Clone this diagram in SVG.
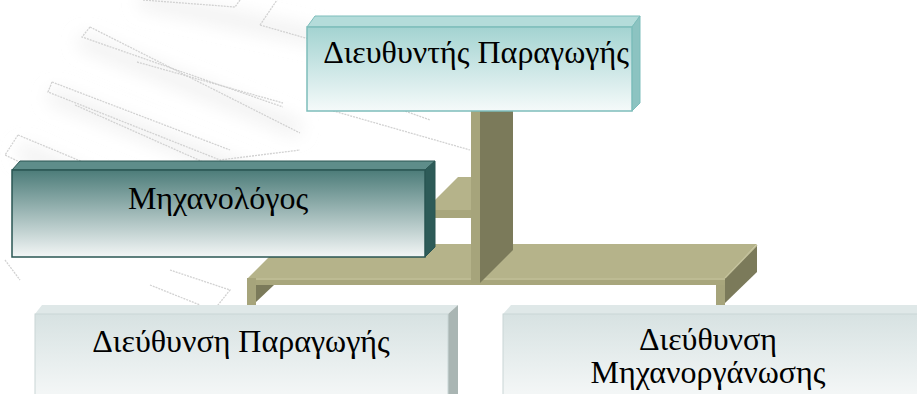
<svg xmlns="http://www.w3.org/2000/svg" width="917" height="394" viewBox="0 0 917 394">
  <defs>
    <linearGradient id="gTop" x1="0" y1="0" x2="0" y2="1">
      <stop offset="0" stop-color="#a3d3d1"/>
      <stop offset="1" stop-color="#f5fafa"/>
    </linearGradient>
    <linearGradient id="gMech" x1="0" y1="0" x2="0" y2="1">
      <stop offset="0" stop-color="#4c7c79"/>
      <stop offset="1" stop-color="#f3f6f6"/>
    </linearGradient>
    <linearGradient id="gDept" x1="0" y1="0" x2="0" y2="1">
      <stop offset="0" stop-color="#d7e2e2"/>
      <stop offset="1" stop-color="#f7f9f9"/>
    </linearGradient>
    <filter id="soft" x="-20%" y="-20%" width="140%" height="140%">
      <feGaussianBlur stdDeviation="0.6"/>
    </filter>
    <filter id="haze" x="-30%" y="-30%" width="160%" height="160%">
      <feGaussianBlur stdDeviation="9"/>
    </filter>
  </defs>
  <style>
    .label { font-family: "Liberation Serif", "DejaVu Serif", "Times New Roman", serif; font-size: 32px; fill: #000; text-anchor: middle; }
    .wm { fill: none; stroke: #d2d2d2; stroke-width: 1.3; stroke-dasharray: 2 1; }
    .wmhaze { fill: none; stroke: #efefef; stroke-width: 14; }
    .olive-top { fill: #b5b38a; }
    .olive-lip { fill: #a8a67c; }
    .olive-dark { fill: #7b7a5a; }
    .olive-leg { fill: #a6a47b; }
  </style>

  <rect width="917" height="394" fill="#ffffff"/>

  <!-- faint background watermark strokes -->
  <g id="watermark" filter="url(#soft)">
    <g filter="url(#haze)">
      <path class="wmhaze" d="M80 40 L300 130 M50 95 L290 190 M20 150 L200 230 M140 0 L330 40"/>
    </g>
    <path class="wm" d="M143 0 L235 7 L240 0"/>
    <path class="wm" d="M260 25 L277 0"/>
    <path class="wm" d="M260 25 L330 45"/>
    <path class="wm" d="M90 27 L300 133"/>
    <path class="wm" d="M90 27 L82 37 L283 107"/>
    <path class="wm" d="M137 62 L283 103"/>
    <path class="wm" d="M52 82 L48 92 L220 160 L300 150"/>
    <path class="wm" d="M52 82 L230 150"/>
    <path class="wm" d="M75 105 L210 165"/>
    <path class="wm" d="M18 135 L5 155 L120 210"/>
    <path class="wm" d="M18 135 L150 190"/>
    <path class="wm" d="M330 110 L470 150"/>
    <path class="wm" d="M360 95 L430 120"/>
    <path class="wm" d="M170 270 L230 290 L210 315"/>
    <path class="wm" d="M150 285 L200 305"/>
    <path class="wm" d="M5 260 L20 280"/>
  </g>

  <!-- connectors: olive 3-D bars -->
  <g id="connectors">
    <!-- horizontal bar feeding both departments -->
    <polygon class="olive-top" points="248,278 282,244 757,244 725,278"/>
    <rect class="olive-lip" x="248" y="278" width="477" height="7"/>
    <rect x="248" y="278" width="477" height="2" fill="#bdbb93"/>
    <polygon class="olive-dark" points="725,278 757,245 757,272 725,303"/>
    <line x1="725" y1="278" x2="757" y2="245" stroke="#c3c19a" stroke-width="1.5"/>
    <rect class="olive-leg" x="247" y="278" width="9" height="27"/>
    <polygon class="olive-dark" points="256,285 274,285 256,302"/>
    <rect class="olive-leg" x="716" y="285" width="9" height="20"/>
    <!-- short shelf toward Μηχανολόγος -->
    <polygon class="olive-top" points="425,210 458,177 471,177 471,210"/>
    <rect class="olive-lip" x="425" y="210" width="46" height="8"/>
    <!-- vertical stem from the director -->
    <rect class="olive-leg" x="471" y="108" width="9" height="175"/>
    <polygon class="olive-dark" points="480,108 513,108 513,250 480,283"/>
  </g>

  <!-- Διευθυντής Παραγωγής -->
  <g id="director">
    <polygon points="307,27 315,16 640,16 632,27" fill="#b4dcda" stroke="#7dbdbb" stroke-width="1"/>
    <polygon points="632,27 640,16 640,103 632,111" fill="#8cc3c1" stroke="#7dbdbb" stroke-width="1"/>
    <rect x="307" y="27" width="325" height="84" fill="url(#gTop)" stroke="#7dbdbb" stroke-width="1.5"/>
    <text class="label" x="476" y="63">Διευθυντής Παραγωγής</text>
  </g>

  <!-- Μηχανολόγος -->
  <g id="engineer">
    <polygon points="12,170 20,161 435,161 425,170" fill="#5e8d8a" stroke="#2a5653" stroke-width="1"/>
    <polygon points="425,170 435,161 435,247 425,257" fill="#2d5b58" stroke="#2a5653" stroke-width="1"/>
    <rect x="12" y="170" width="413" height="87" fill="url(#gMech)" stroke="#2a5653" stroke-width="1.5"/>
    <text class="label" x="218" y="209">Μηχανολόγος</text>
  </g>

  <!-- Διεύθυνση Παραγωγής -->
  <g id="dept-production">
    <polygon points="35,314 42,305 458,305 448,314" fill="#dfe8e8"/>
    <polygon points="448,314 458,305 458,394 448,394" fill="#a9b5b3"/>
    <rect x="35" y="314" width="413" height="90" fill="url(#gDept)" stroke="#c9d6d6" stroke-width="1"/>
    <text class="label" x="241" y="352">Διεύθυνση Παραγωγής</text>
  </g>

  <!-- Διεύθυνση Μηχανοργάνωσης -->
  <g id="dept-computing">
    <polygon points="503,314 511,305 927,305 917,314" fill="#dfe8e8"/>
    <rect x="503" y="314" width="420" height="90" fill="url(#gDept)" stroke="#c9d6d6" stroke-width="1"/>
    <text class="label" x="708" y="350">Διεύθυνση</text>
    <text class="label" x="708" y="383">Μηχανοργάνωσης</text>
  </g>
</svg>
